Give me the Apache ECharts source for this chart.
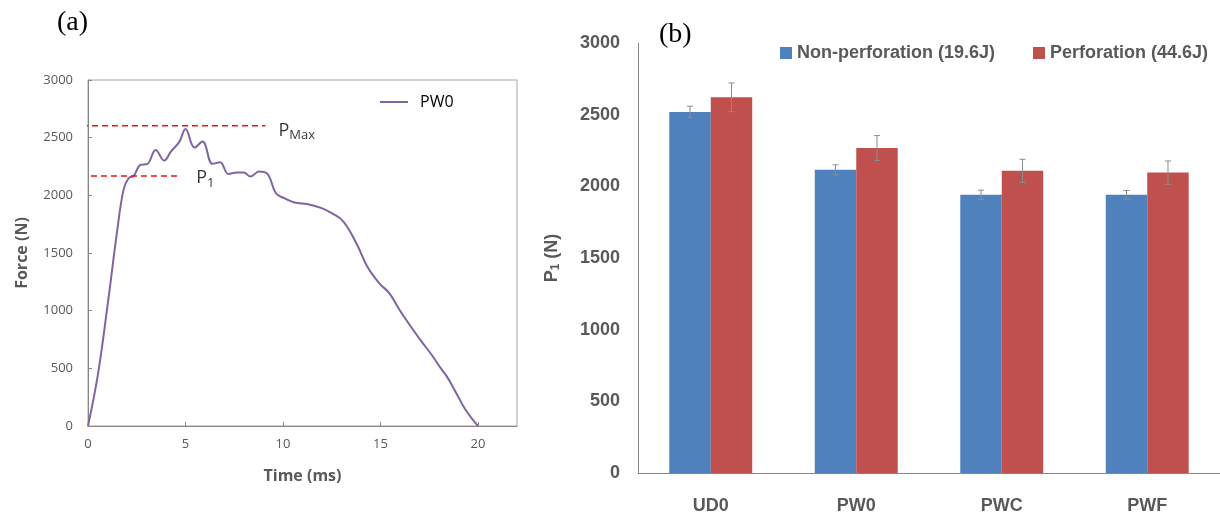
<!DOCTYPE html>
<html>
<head>
<meta charset="utf-8">
<script src="https://cdn.jsdelivr.net/npm/echarts@6/dist/echarts.min.js"></script>
<style>
html,body{margin:0;padding:0;background:#fff;}
#main{width:1220px;height:515px;}
</style>
</head>
<body>
<div id="main"></div>
<script>
// ---- (a) force-time curve, PW0 ----
const timeMs = [0,0.52,1.04,1.48,1.82,2.08,2.34,2.69,3.04,3.47,3.91,4.25,4.69,5.0,5.47,5.87,6.39,6.77,7.2,7.64,7.99,8.33,8.77,9.2,9.64,10.07,10.59,11.28,11.98,12.5,13.1,13.8,14.32,14.93,15.45,15.97,16.49,17.1,17.62,18.06,18.4,18.84,19.36,20.0];
const forceN = [0,459,1094,1672,2047,2148,2168,2264,2272,2394,2301,2379,2466,2576,2414,2466,2273,2287,2186,2197,2197,2163,2206,2186,2018,1975,1938,1923,1889,1845,1773,1571,1383,1239,1152,1008,878,733,618,508,430,300,141,0];
const pMaxLine = [[-0.31,2604],[9.1,2604]];
const p1Line = [[0.15,2168],[4.63,2168]];
const pMaxLabelPos = [9.77,2560];
const p1LabelPos = [5.55,2150];

// ---- (b) P1 bar chart ----
const categories = ['UD0','PW0','PWC','PWF'];
const nonPerf = [2519,2115,1941,1941];
const nonPerfErr = [40,35,32,30];
const perf = [2621,2267,2108,2096];
const perfErr = [100,87,81,81];
const seriesNames = ['Non-perforation (19.6J)','Perforation (44.6J)'];

const catGap = 0.43;
function errRender(side){
  return function(params, api){
    const i = api.value(0), v = api.value(1), e = api.value(2);
    const band = api.size([1,0])[0];
    const bw = band*(1-catGap)/2;
    const c = api.coord([i, v]);
    const x = c[0] + side*bw/2;
    const yTop = api.coord([i, v+e])[1];
    const yBot = api.coord([i, v-e])[1];
    const cap = 3;
    const st = {stroke:'#8c8c8c', lineWidth:1};
    return {type:'group', children:[
      {type:'line', shape:{x1:x,y1:yTop,x2:x,y2:yBot}, style:st},
      {type:'line', shape:{x1:x-cap,y1:yTop,x2:x+cap,y2:yTop}, style:st},
      {type:'line', shape:{x1:x-cap,y1:yBot,x2:x+cap,y2:yBot}, style:st}
    ]};
  };
}
const plain = v => String(v);

const grey = '#595959';
const chart = echarts.init(document.getElementById('main'), null, {renderer:'canvas'});
chart.setOption({
  backgroundColor:'#fff',
  animation:false,
  textStyle:{fontFamily:'Open Sans'},
  grid:[
    {left:88, top:80, width:429, height:346, show:true, borderColor:'#a6a6a6', borderWidth:1, backgroundColor:'transparent'},
    {left:638, top:43, width:588, height:432}
  ],
  legend:[
    {data:['PW0'], left:375, top:89, itemWidth:28, itemHeight:10, icon:'path://M0,4 L28,4 L28,6 L0,6 Z',
     textStyle:{fontFamily:'Open Sans', fontSize:16, color:'#000', padding:[0,0,0,7]}},
    {data:seriesNames, left:775, top:39, itemWidth:12, itemHeight:12, itemGap:38, icon:'rect',
     textStyle:{fontFamily:'Liberation Sans', fontWeight:'bold', fontSize:18, color:grey}}
  ],
  xAxis:[
    {type:'value', gridIndex:0, min:0, max:22, interval:5,
     axisLine:{show:true, lineStyle:{color:'#868686'}},
     axisTick:{show:true, inside:true, length:4, lineStyle:{color:'#868686'}},
     axisLabel:{fontFamily:'Open Sans', fontSize:13, color:grey, margin:12, showMaxLabel:false, formatter:plain},
     splitLine:{show:false},
     name:'Time (ms)', nameLocation:'middle', nameGap:42,
     nameTextStyle:{fontFamily:'Open Sans', fontWeight:'bold', fontSize:16, color:grey}},
    {type:'category', gridIndex:1, data:categories,
     axisLine:{show:true, lineStyle:{color:'#868686'}},
     axisTick:{show:false},
     axisLabel:{fontFamily:'Liberation Sans', fontWeight:'bold', fontSize:18, color:grey, margin:24}}
  ],
  yAxis:[
    {type:'value', gridIndex:0, min:0, max:3000, interval:500,
     axisLine:{show:true, lineStyle:{color:'#868686'}},
     axisTick:{show:true, inside:true, length:4, lineStyle:{color:'#868686'}},
     axisLabel:{fontFamily:'Open Sans', fontSize:13, color:grey, margin:15, formatter:plain},
     splitLine:{show:false},
     name:'Force (N)', nameLocation:'middle', nameGap:58,
     nameTextStyle:{fontFamily:'Open Sans', fontWeight:'bold', fontSize:16, color:grey}},
    {type:'value', gridIndex:1, min:0, max:3000, interval:500,
     axisLine:{show:true, lineStyle:{color:'#868686'}},
     axisTick:{show:false},
     axisLabel:{fontFamily:'Liberation Sans', fontWeight:'bold', fontSize:18, color:grey, margin:18, formatter:plain},
     splitLine:{show:false},
     name:'P{s|1} (N)', nameLocation:'middle', nameGap:76,
     nameTextStyle:{fontFamily:'Liberation Sans', fontWeight:'bold', fontSize:18, color:grey,
       rich:{s:{fontFamily:'Liberation Sans', fontWeight:'bold', fontSize:12, color:grey, verticalAlign:'bottom', padding:[8,0,0,0]}}}}
  ],
  series:[
    {name:'PW0', type:'line', xAxisIndex:0, yAxisIndex:0, smooth:0.4, symbol:'none',
     data:timeMs.map((t,i)=>[t, forceN[i]]), lineStyle:{color:'#8064a2', width:2}, itemStyle:{color:'#8064a2'}},
    {name:'pmaxline', type:'line', xAxisIndex:0, yAxisIndex:0, symbol:'none', clip:false, silent:true,
     data:pMaxLine, lineStyle:{color:'#ee1111', width:1.5, type:[6,4]}},
    {name:'p1line', type:'line', xAxisIndex:0, yAxisIndex:0, symbol:'none', clip:false, silent:true,
     data:p1Line, lineStyle:{color:'#ee1111', width:1.5, type:[6,4]}},
    {name:'labels', type:'scatter', xAxisIndex:0, yAxisIndex:0, symbolSize:0, silent:true,
     data:[{value:pMaxLabelPos, label:{formatter:'{p|P}{s|Max}'}},{value:p1LabelPos, label:{formatter:'{p|P}{s|1}'}}],
     label:{show:true, position:'right', distance:0,
       rich:{p:{fontFamily:'Open Sans', fontSize:18, color:'#000'},
             s:{fontFamily:'Open Sans', fontSize:13, color:'#000', verticalAlign:'bottom', padding:[10,0,0,0]}}}},
    {name:seriesNames[0], type:'bar', xAxisIndex:1, yAxisIndex:1, data:nonPerf, barGap:'0%', barCategoryGap:(catGap*100)+'%',
     itemStyle:{color:'#4f81bd'}},
    {name:seriesNames[1], type:'bar', xAxisIndex:1, yAxisIndex:1, data:perf, barGap:'0%', barCategoryGap:(catGap*100)+'%',
     itemStyle:{color:'#c0504d'}},
    {type:'custom', xAxisIndex:1, yAxisIndex:1, renderItem:errRender(-1), silent:true, z:10,
     data:nonPerf.map((v,i)=>[i,v,nonPerfErr[i]])},
    {type:'custom', xAxisIndex:1, yAxisIndex:1, renderItem:errRender(1), silent:true, z:10,
     data:perf.map((v,i)=>[i,v,perfErr[i]])}
  ],
  graphic:[
    {type:'text', left:57, top:9, style:{text:'(a)', font:'28px "Liberation Serif"', fill:'#000'}},
    {type:'text', left:659, top:21, style:{text:'(b)', font:'28px "Liberation Serif"', fill:'#000'}}
  ]
});
</script>
</body>
</html>
